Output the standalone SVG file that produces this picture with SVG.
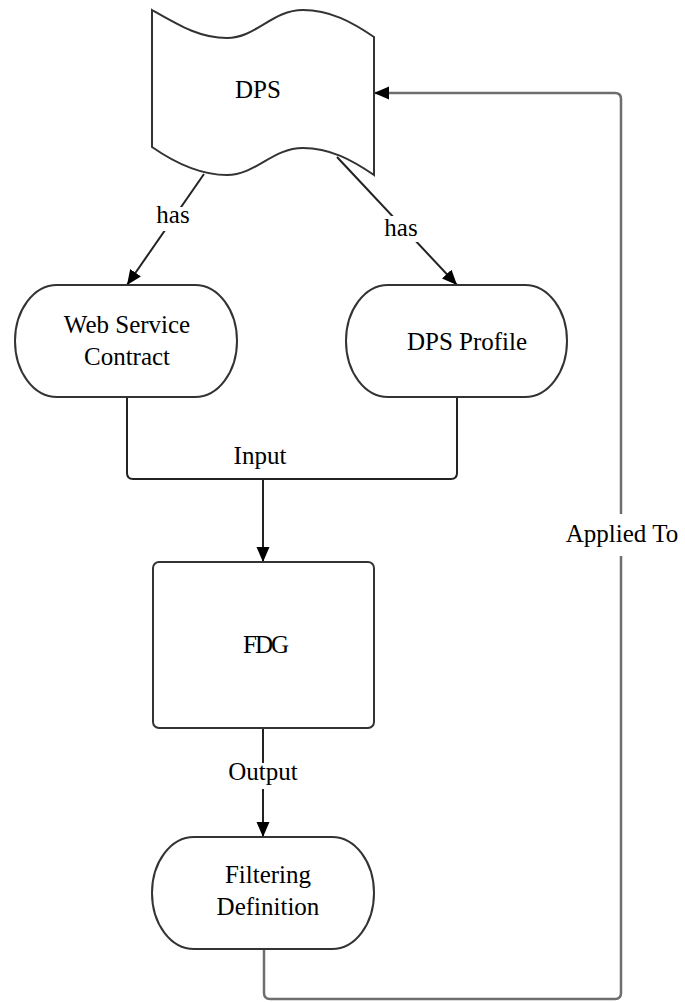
<svg xmlns="http://www.w3.org/2000/svg" width="685" height="1002" viewBox="0 0 685 1002">
<style>
.shape{fill:#fff;stroke:#333;stroke-width:2}
.conn{fill:none;stroke:#222;stroke-width:2}
.conn2{fill:none;stroke:#6e6e6e;stroke-width:2.5}
.t{font-family:"Liberation Serif","Times New Roman",serif;font-size:25px;fill:#000;text-anchor:middle}
.bg{fill:#fff;stroke:none}
</style>
<defs>
<marker id="arr" markerUnits="userSpaceOnUse" markerWidth="16" markerHeight="14" refX="15" refY="6.5" orient="auto">
<path d="M0,0 L15,6.5 L0,13 z" fill="#000"/>
</marker>
</defs>
<g id="connectors">
<path class="conn" d="M204,174 L127,285" marker-end="url(#arr)"/>
<path class="conn" d="M337,157 L457,285" marker-end="url(#arr)"/>
<path class="conn" d="M127,397 L127,473 Q127,479 133,479 L451,479 Q457,479 457,473 L457,397"/>
<path class="conn" d="M263,479 L263,562" marker-end="url(#arr)"/>
<path class="conn" d="M263,728 L263,837" marker-end="url(#arr)"/>
<path class="conn2" d="M264,949 L264,993 Q264,999 270,999 L615,999 Q621,999 621,993 L621,99 Q621,93 615,93 L374,93" marker-end="url(#arr)"/>
<rect class="bg" x="152" y="207" width="42" height="24"/>
<text class="t" x="173" y="223">has</text>
<rect class="bg" x="380" y="216" width="42" height="26"/>
<text class="t" x="401" y="236">has</text>
<text class="t" x="260" y="464">Input</text>
<rect class="bg" x="224" y="763" width="78" height="26"/>
<text class="t" x="263" y="780">Output</text>
<rect class="bg" x="560" y="514" width="124" height="42"/>
<text class="t" x="622" y="542">Applied To</text>
</g>
<g id="dps">
<path class="shape" d="M152,10 C180,26 200,38 227,38 C256,38 272,10 303,10 C330,10 352,22 374,37 L374,175 C352,160 330,148 303,148 C272,148 256,175 227,175 C200,175 175,163 152,147 Z"/>
<text class="t" x="258" y="98">DPS</text>
</g>
<g id="wsc">
<rect class="shape" x="15" y="285" width="222" height="112" rx="42" ry="56"/>
<text class="t" x="127" y="333">Web Service</text>
<text class="t" x="127" y="365">Contract</text>
</g>
<g id="dpsprofile">
<rect class="shape" x="346" y="285" width="221" height="112" rx="42" ry="56"/>
<text class="t" x="467" y="350">DPS Profile</text>
</g>
<g id="fdg">
<rect class="shape" x="153" y="562" width="221" height="166" rx="6"/>
<text class="t" x="265" y="653" letter-spacing="-2">FDG</text>
</g>
<g id="filtering">
<rect class="shape" x="152" y="837" width="222" height="112" rx="42" ry="56"/>
<text class="t" x="268" y="883">Filtering</text>
<text class="t" x="268" y="915">Definition</text>
</g>
</svg>
